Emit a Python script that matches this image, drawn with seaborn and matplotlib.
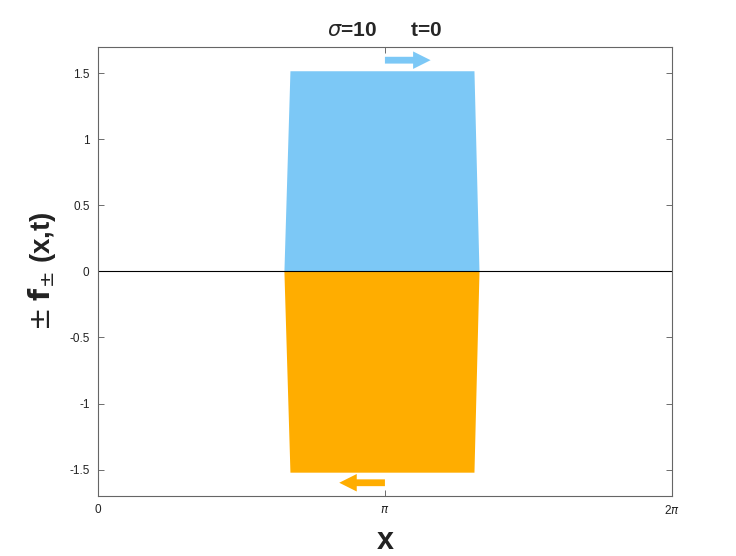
import numpy as np
import matplotlib
matplotlib.use("Agg")
import matplotlib.pyplot as plt
import seaborn as sns
import pandas as pd

# data
x_pts = [0.0, 2.036, 2.102, 4.116, 4.171, 2 * np.pi]
f_pts = [0.0, 0.0, 1.52, 1.52, 0.0, 0.0]
y_ticks = [-1.5, -1, -0.5, 0, 0.5, 1, 1.5]
y_ticklabels = ["-1.5", "-1", "-0.5", "0", "0.5", "1", "1.5"]
x_ticks = [0, np.pi, 2 * np.pi]
x_ticklabels = ["0", r"$\pi$", r"2$\pi$"]
arrow_y = 1.6
arrow_len = 0.5

sns.set_style("white")
plt.rcParams['font.family'] = ['Liberation Sans', 'DejaVu Sans']

fig = plt.figure(figsize=(7.36, 5.56), dpi=100)
ax = fig.add_axes([0.133, 0.108, 0.78, 0.8075])

blue = "#7CC8F6"
orange = "#FFAD00"

df = pd.DataFrame({"x": x_pts, "f": f_pts})
ax.fill_between(df["x"], 0, df["f"], color=blue, lw=0)
ax.fill_between(df["x"], 0, -df["f"], color=orange, lw=0)
sns.lineplot(x=[0, 2 * np.pi], y=[0, 0], color="black", lw=0.8, ax=ax)

ax.annotate("", xy=(np.pi + arrow_len, arrow_y), xytext=(np.pi, arrow_y),
            arrowprops=dict(arrowstyle="simple,head_length=0.9,head_width=0.9,tail_width=0.35",
                            color=blue, mutation_scale=14, lw=0, shrinkA=0, shrinkB=0))
ax.annotate("", xy=(np.pi - arrow_len, -arrow_y), xytext=(np.pi, -arrow_y),
            arrowprops=dict(arrowstyle="simple,head_length=0.9,head_width=0.9,tail_width=0.35",
                            color=orange, mutation_scale=14, lw=0, shrinkA=0, shrinkB=0))

ax.set_xlim(0, 2 * np.pi)
ax.set_ylim(-1.7, 1.7)
ax.set_xticks(x_ticks)
ax.set_xticklabels(x_ticklabels)
ax.set_yticks(y_ticks)
ax.set_yticklabels(y_ticklabels)
ax.tick_params(direction="in", length=4, width=0.6, color="#555555", labelsize=8.5,
               top=True, right=True, left=True, bottom=True, labelcolor="#222222", pad=6)
for s in ax.spines.values():
    s.set_color("#666666")
    s.set_linewidth(0.8)

ax.set_title(r"$\sigma$=10      t=0", fontsize=15, fontweight="bold", pad=8)
ax.set_xlabel("x", fontsize=22, labelpad=6, color="#222222", fontweight="bold")
ax.set_ylabel(r"$\pm$ $\mathbf{f}_{\pm}$ (x,t)", fontsize=20, fontweight="bold", labelpad=8, color="#222222")

fig.savefig("out.png", dpi=100)
